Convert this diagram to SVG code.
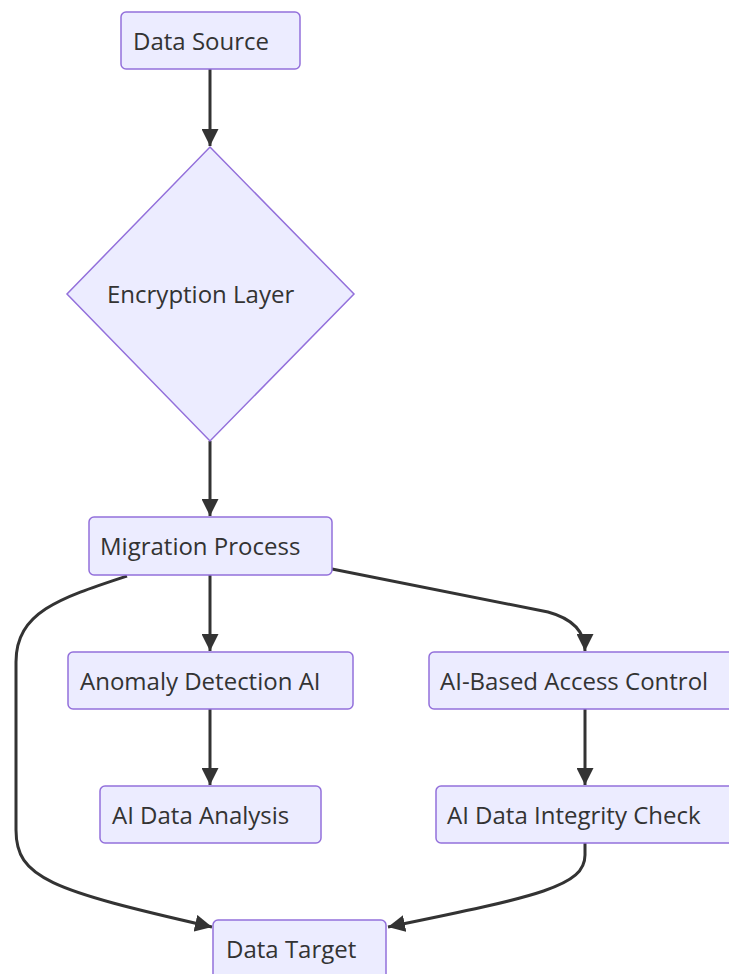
<svg xmlns="http://www.w3.org/2000/svg" width="729" height="974" viewBox="0 0 729 974">
  <style>
    .node rect, .node polygon { fill: #ECECFF; stroke: #9370DB; stroke-width: 1.5; }
    .node text { font-family: "Open Sans", "Noto Sans", "DejaVu Sans", sans-serif; font-size: 24px; fill: #333; }
    .edge { fill: none; stroke: #333; stroke-width: 3; }
  </style>
  <defs>
    <marker id="arrow" viewBox="0 0 10 10" refX="10" refY="5" markerUnits="userSpaceOnUse" markerWidth="17" markerHeight="17" orient="auto">
      <path d="M0,0 L10,5 L0,10 z" fill="#333"/>
    </marker>
  </defs>
  <rect width="729" height="974" fill="#ffffff"/>

  <g id="connectors">
    <path class="edge" d="M210,69 L210,146" marker-end="url(#arrow)"/>
    <path class="edge" d="M210,441 L210,516" marker-end="url(#arrow)"/>
    <path class="edge" d="M210,575 L210,651" marker-end="url(#arrow)"/>
    <path class="edge" d="M210,709 L210,785" marker-end="url(#arrow)"/>
    <path class="edge" d="M332,569 L548,612 Q585,622 585,651" marker-end="url(#arrow)"/>
    <path class="edge" d="M585,709 L585,785" marker-end="url(#arrow)"/>
    <path class="edge" d="M127,576 C60,598 16,612 16,662 L16,830 C16,878 50,890 212,927" marker-end="url(#arrow)"/>
    <path class="edge" d="M585,843 L585,855 C585,886 540,896 388,927" marker-end="url(#arrow)"/>
  </g>

  <g id="data-source" class="node">
    <rect x="121" y="12" width="179" height="57" rx="5"/>
    <text x="133" y="50">Data Source</text>
  </g>

  <g id="encryption-layer" class="node">
    <polygon points="210,147 354,294 210,441 67,294"/>
    <text x="107" y="303">Encryption Layer</text>
  </g>

  <g id="migration-process" class="node">
    <rect x="89" y="517" width="243" height="58" rx="5"/>
    <text x="100" y="555">Migration Process</text>
  </g>

  <g id="anomaly-detection" class="node">
    <rect x="68" y="652" width="285" height="57" rx="5"/>
    <text x="80" y="690">Anomaly Detection AI</text>
  </g>

  <g id="access-control" class="node">
    <rect x="429" y="652" width="310" height="57" rx="5"/>
    <text x="440" y="690">AI-Based Access Control</text>
  </g>

  <g id="data-analysis" class="node">
    <rect x="100" y="786" width="221" height="57" rx="5"/>
    <text x="112" y="824">AI Data Analysis</text>
  </g>

  <g id="integrity-check" class="node">
    <rect x="436" y="786" width="303" height="57" rx="5"/>
    <text x="447" y="824">AI Data Integrity Check</text>
  </g>

  <g id="data-target" class="node">
    <rect x="213" y="920" width="173" height="64" rx="5"/>
    <text x="226" y="958">Data Target</text>
  </g>
</svg>
